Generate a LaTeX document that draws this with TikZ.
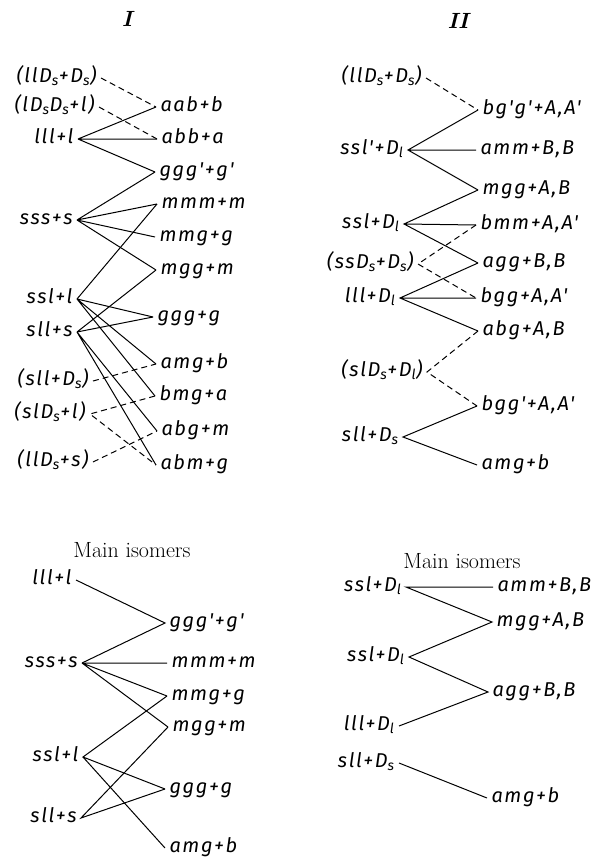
\documentclass[tikz,border=0pt]{standalone}
\usepackage{fontspec}
\newfontfamily\labfont[LetterSpace=8]{Fira Sans}

\begin{document}
\begin{tikzpicture}[x=1pt,y=-1pt,line width=1pt]
\tikzstyle{every node}=[inner ysep=0pt,inner xsep=4pt,text height=13pt,text depth=4pt,font=\labfont\itshape\fontsize{20}{23}\selectfont]
\tikzstyle{lhs}=[anchor=east]
\tikzstyle{rhs}=[anchor=west]
\tikzstyle{broken}=[dash pattern=on 6pt off 4pt]
\tikzstyle{title}=[font=\rmfamily\itshape\bfseries\fontsize{22}{26}\selectfont]
\tikzstyle{caption}=[font=\rmfamily\fontsize{22}{26}\selectfont]
\useasboundingbox (0,0) rectangle (593,862);

\node[title] (ti) at (127,22) {I};
\node[title] (tii) at (458,24) {II};
\node[caption] (mi) at (132,553) {Main isomers};
\node[caption] (mii) at (462,564) {Main isomers};

\node[lhs] (a1) at (101,78) {(llD\textsubscript{s}+D\textsubscript{s})};
\node[lhs] (a2) at (99,107) {(lD\textsubscript{s}D\textsubscript{s}+l)};
\node[lhs] (a3) at (78,139) {lll+l};
\node[lhs] (a4) at (77,220) {sss+s};
\node[lhs] (a5) at (77,299) {ssl+l};
\node[lhs] (a6) at (77,332) {sll+s};
\node[lhs] (a7) at (93,381) {(sll+D\textsubscript{s})};
\node[lhs] (a8) at (90,414) {(slD\textsubscript{s}+l)};
\node[lhs] (a9) at (93,462) {(llD\textsubscript{s}+s)};
\node[rhs] (b1) at (156,107) {aab+b};
\node[rhs] (b2) at (157,139) {abb+a};
\node[rhs] (b3) at (155,172) {ggg'+g'};
\node[rhs] (b4) at (157,204) {mmm+m};
\node[rhs] (b5) at (155,237) {mmg+g};
\node[rhs] (b6) at (156,270) {mgg+m};
\node[rhs] (b7) at (153,317) {ggg+g};
\node[rhs] (b8) at (156,364) {amg+b};
\node[rhs] (b9) at (155,396) {bmg+a};
\node[rhs] (b10) at (157,431) {abg+m};
\node[rhs] (b11) at (156,465) {abm+g};

\draw (a3.east) -- (b1.west) (a3.east) -- (b2.west) (a3.east) -- (b3.west);
\draw (a4.east) -- (b3.west) (a4.east) -- (b4.west) (a4.east) -- (b5.west) (a4.east) -- (b6.west);
\draw (a5.east) -- (b4.west) (a5.east) -- (b7.west) (a5.east) -- (b8.west) (a5.east) -- (b9.west);
\draw (a6.east) -- (b6.west) (a6.east) -- (b7.west) (a6.east) -- (b10.west) (a6.east) -- (b11.west);
\draw[broken] (a1.east) -- (b1.west);
\draw[broken] (a2.east) -- (b2.west);
\draw[broken] (a7.east) -- (b8.west);
\draw[broken] (b9.west) -- (a8.east) -- (b11.west);
\draw[broken] (a9.east) -- (b10.west);

\node[lhs] (c1) at (426,78) {(llD\textsubscript{s}+D\textsubscript{s})};
\node[lhs] (c2) at (408,150) {ssl'+D\textsubscript{l}};
\node[lhs] (c3) at (404,224) {ssl+D\textsubscript{l}};
\node[lhs] (c4) at (418,264) {(ssD\textsubscript{s}+D\textsubscript{s})};
\node[lhs] (c5) at (400,298) {lll+D\textsubscript{l}};
\node[lhs] (c6) at (427,372) {(slD\textsubscript{s}+D\textsubscript{l})};
\node[lhs] (c7) at (403,437) {sll+D\textsubscript{s}};
\node[rhs] (d1) at (478,110) {bg'g'+A,A'};
\node[rhs] (d2) at (476,150) {amm+B,B};
\node[rhs] (d3) at (478,190) {mgg+A,B};
\node[rhs] (d4) at (476,225) {bmm+A,A'};
\node[rhs] (d5) at (478,263) {agg+B,B};
\node[rhs] (d6) at (476,298) {bgg+A,A'};
\node[rhs] (d7) at (478,331) {abg+A,B};
\node[rhs] (d8) at (477,406) {bgg'+A,A'};
\node[rhs] (d9) at (477,465) {amg+b};

\draw (d1.west) -- (c2.east) -- (d3.west) (c2.east) -- (d2.west);
\draw (d3.west) -- (c3.east) -- (d5.west) (c3.east) -- (d4.west);
\draw (d5.west) -- (c5.east) -- (d7.west) (c5.east) -- (d6.west);
\draw (d8.west) -- (c7.east) -- (d9.west);
\draw[broken] (c1.east) -- (d1.west);
\draw[broken] (d4.west) -- (c4.east) -- (d6.west);
\draw[broken] (d7.west) -- (c6.east) -- (d8.west);

\node[lhs] (e1) at (76,580) {lll+l};
\node[lhs] (e2) at (82,663) {sss+s};
\node[lhs] (e3) at (83,757) {ssl+l};
\node[lhs] (e4) at (81,818) {sll+s};
\node[rhs] (f1) at (165,623) {ggg'+g'};
\node[rhs] (f2) at (167,663) {mmm+m};
\node[rhs] (f3) at (167,696) {mmg+g};
\node[rhs] (f4) at (168,727) {mgg+m};
\node[rhs] (f5) at (165,789) {ggg+g};
\node[rhs] (f6) at (165,848) {amg+b};

\draw (e1.east) -- (f1.west) -- (e2.east);
\draw (e2.east) -- (f2.west) (e2.east) -- (f3.west) (e2.east) -- (f4.west);
\draw (f3.west) -- (e3.east) -- (f5.west) (e3.east) -- (f6.west);
\draw (f4.west) -- (e4.east) -- (f5.west);

\node[lhs] (g1) at (406,587) {ssl+D\textsubscript{l}};
\node[lhs] (g2) at (409,657) {ssl+D\textsubscript{l}};
\node[lhs] (g3) at (399,726) {lll+D\textsubscript{l}};
\node[lhs] (g4) at (399,763) {sll+D\textsubscript{s}};
\node[rhs] (h1) at (493,587) {amm+B,B};
\node[rhs] (h2) at (492,622) {mgg+A,B};
\node[rhs] (h3) at (488,692) {agg+B,B};
\node[rhs] (h4) at (487,798) {amg+b};

\draw (h1.west) -- (g1.east) -- (h2.west) -- (g2.east) -- (h3.west) -- (g3.east);
\draw (g4.east) -- (h4.west);
\end{tikzpicture}
\end{document}
